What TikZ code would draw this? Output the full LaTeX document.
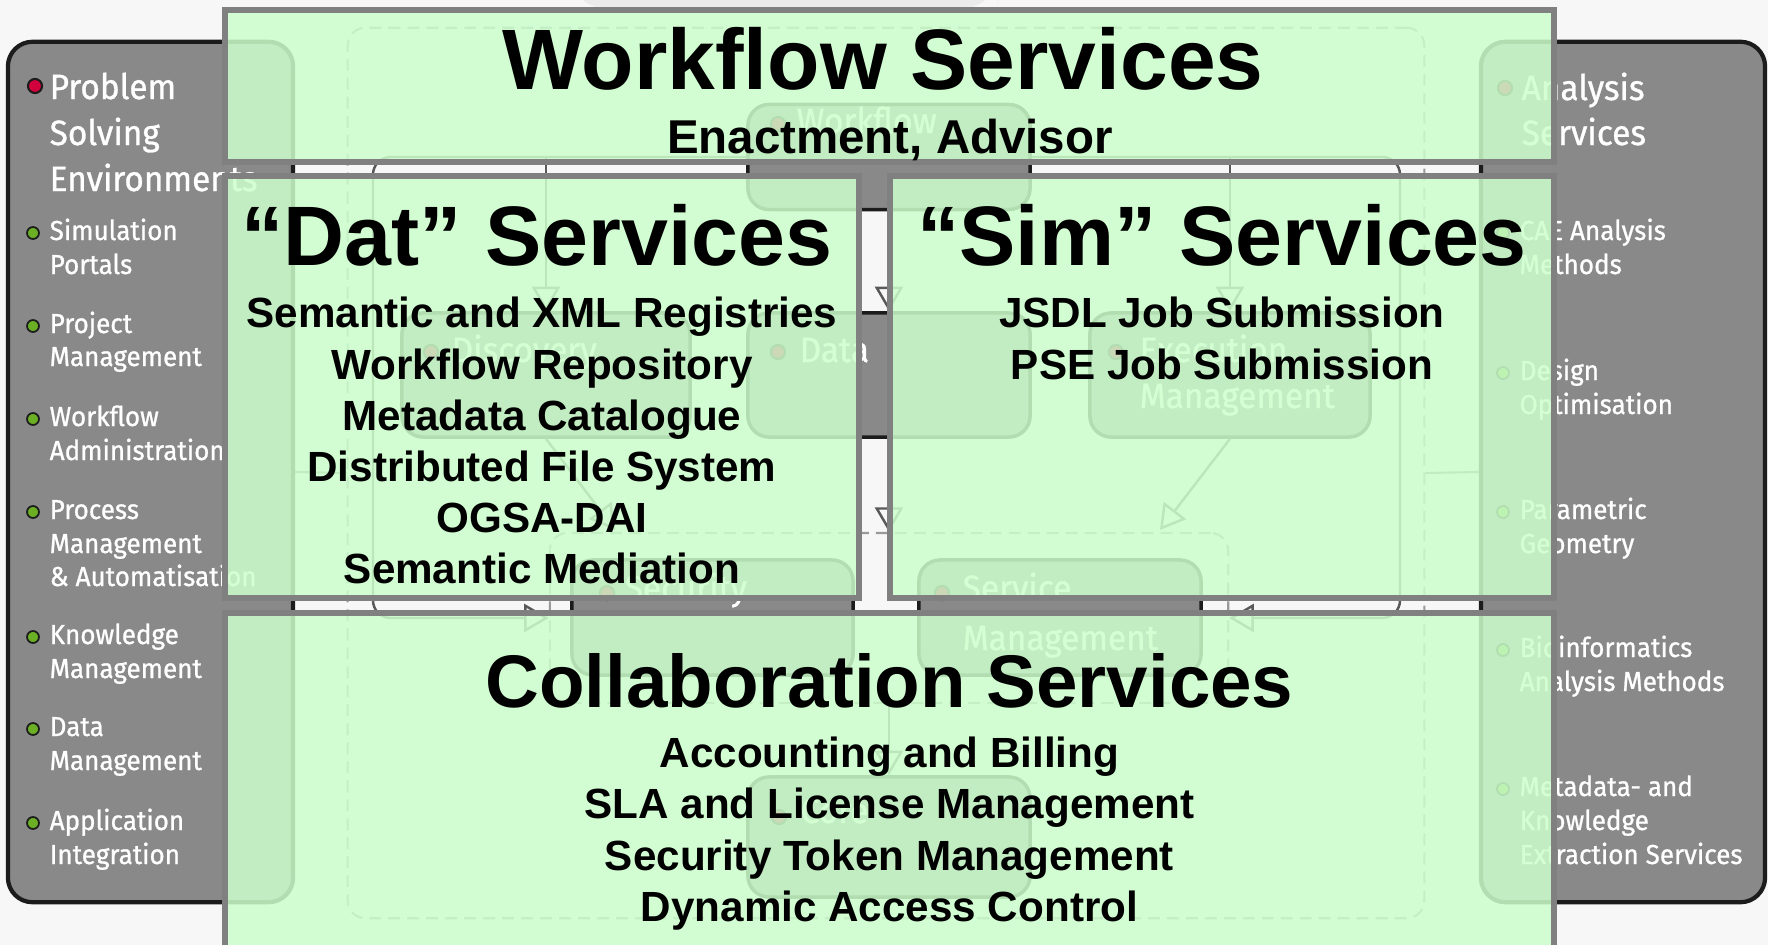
\documentclass[tikz,border=0pt]{standalone}
\usepackage{fontspec}
\setmainfont{Liberation Sans}
\newfontfamily\panelfont{Fira Sans}[FakeBold=0.9, FakeStretch=0.95]
\usetikzlibrary{arrows.meta}

\definecolor{bgcol}{HTML}{F7F7F7}
\definecolor{panelgray}{HTML}{898989}
\definecolor{edgecol}{HTML}{1C1C1C}
\definecolor{layergreen}{HTML}{CCFFCC}
\definecolor{layeredge}{HTML}{808080}
\definecolor{dotred}{HTML}{D2003C}
\definecolor{dotgreen}{HTML}{6BB024}

\tikzset{
  panel/.style={draw=edgecol, line width=1.2pt, fill=panelgray, rounded corners=7pt},
  capbox/.style={draw=edgecol, line width=1pt, fill=panelgray, rounded corners=6pt},
  frame/.style={draw=black!40, line width=0.6pt, dash pattern=on 3.4pt off 2pt, rounded corners=5pt},
  link/.style={draw=black!65, line width=0.7pt, rounded corners=5pt, -{Triangle[open, length=7pt, width=8pt]}},
  plain/.style={draw=black!50, line width=0.6pt},
  layer/.style={draw=layeredge, line width=1.7pt, fill=layergreen, fill opacity=0.85},
  head/.style={font=\panelfont\fontsize{10}{13}\selectfont, text=white, anchor=base west, inner sep=0pt},
  entry/.style={font=\panelfont\fontsize{7.8}{9.6}\selectfont, text=white, anchor=base west, inner sep=0pt},
  caplabel/.style={font=\panelfont\fontsize{10}{13}\selectfont, text=white, anchor=base west, inner sep=0pt},
  title/.style={font=\bfseries\fontsize{24}{28}\selectfont, anchor=base, inner sep=0pt},
  subline/.style={font=\bfseries\fontsize{12}{14.6}\selectfont, anchor=base, inner sep=0pt},
  reddot/.style={circle, draw=edgecol, fill=dotred, line width=0.6pt, inner sep=0pt, minimum size=4pt},
  greendot/.style={circle, draw=edgecol, fill=dotgreen, line width=0.5pt, inner sep=0pt, minimum size=3.4pt},
}

\begin{document}
\begin{tikzpicture}[x=0.01cm, y=-0.01cm]
\useasboundingbox (0,0) rectangle (1768,945);
\clip (0,0) rectangle (1768,945);
\fill[bgcol] (0,0) rectangle (1768,945);
\fill[black!8, rounded corners=10pt] (570,-30) rectangle (998,8);

% side panels
\node[panel, minimum width=2.85cm, minimum height=8.6cm] (psepanel) at (150.5,472) {};
\node[panel, minimum width=2.84cm, minimum height=8.6cm] (anpanel) at (1623,472) {};

% underlying architecture
\node[frame, minimum width=10.76cm, minimum height=8.9cm] (archframe) at (886,473) {};
\node[frame, minimum width=6.78cm, minimum height=1.7cm] (coregroup) at (889,618) {};
\node[capbox, minimum width=2.82cm, minimum height=1.05cm] (wfcap) at (889,157) {};
\node[capbox, minimum width=2.88cm, minimum height=1.24cm] (disccap) at (546,375) {};
\node[capbox, minimum width=2.82cm, minimum height=1.24cm] (datacap) at (889,375) {};
\node[capbox, minimum width=2.80cm, minimum height=1.24cm] (execcap) at (1230,375) {};
\node[capbox, minimum width=2.81cm, minimum height=1.15cm] (seccap) at (712.5,617.5) {};
\node[capbox, minimum width=2.82cm, minimum height=1.15cm] (smcap) at (1060,617.5) {};
\node[capbox, minimum width=2.82cm, minimum height=1.2cm] (corecap) at (889,837) {};
\coordinate (discin) at (615,530);
\coordinate (execin) at (1160,530);

\draw[plain] (psepanel.east) -- (archframe.west);
\draw[plain] (archframe.east) -- (anpanel.west);
\draw[link] (wfcap.west) -- (373,157) |- (coregroup.west);
\draw[link] (wfcap.east) -- (1400,157) |- (coregroup.east);
\draw[link] (disccap.north |- wfcap.west) -- (disccap.north);
\draw[link] (execcap.north |- wfcap.east) -- (execcap.north);
\draw[link] (wfcap.south) -- (datacap.north);
\draw[link] (datacap.south) -- (coregroup.north);
\draw[link] (coregroup.south) -- (corecap.north);
\draw[link] (disccap.south) -- (discin);
\draw[link] (execcap.south) -- (execin);

\node[reddot] (wfdot) at (778,124) {};
\node[caplabel] (wflbl) at (796,133) {Workflow};
\node[reddot] (discdot) at (431,352) {};
\node[caplabel] (disclbl) at (451,362) {Discovery};
\node[reddot] (datadot) at (778,352) {};
\node[caplabel] (datalbl) at (799,362) {Data};
\node[reddot] (execdot) at (1116,352) {};
\node[caplabel] (execlbl) at (1139,362) {Execution};
\node[caplabel] (execlbltwo) at (1139,408) {Management};
\node[reddot] (secdot) at (607,593) {};
\node[caplabel] (seclbl) at (624,600) {Security};
\node[reddot] (smdot) at (942,593) {};
\node[caplabel] (smlbl) at (962,600) {Service};
\node[caplabel] (smlbltwo) at (962,650) {Management};
\node[reddot] (coredot) at (779,817) {};
\node[caplabel] (corelbl) at (800,823) {Core};

% left panel text
\node[reddot] (psedot) at (35,86) {};
\node[head] (pse1) at (49,99) {Problem};
\node[head] (pse2) at (49,145) {Solving};
\node[head] (pse3) at (49,191) {Environments};
\node[greendot] (ldot1) at (33,233) {};
\node[entry] (simp1) at (49,240) {Simulation};
\node[entry] (simp2) at (49,274) {Portals};
\node[greendot] (ldot2) at (33,326) {};
\node[entry] (proj1) at (49,333) {Project};
\node[entry] (proj2) at (49,366) {Management};
\node[greendot] (ldot3) at (33,419) {};
\node[entry] (wfad1) at (49,426) {Workflow};
\node[entry] (wfad2) at (49,460) {Administration};
\node[greendot] (ldot4) at (33,512) {};
\node[entry] (proc1) at (49,519) {Process};
\node[entry] (proc2) at (49,553) {Management};
\node[entry] (proc3) at (49,586) {\& Automatisation};
\node[greendot] (ldot5) at (33,637) {};
\node[entry] (know1) at (49,644) {Knowledge};
\node[entry] (know2) at (49,678) {Management};
\node[greendot] (ldot6) at (33,729) {};
\node[entry] (dman1) at (49,736) {Data};
\node[entry] (dman2) at (49,770) {Management};
\node[greendot] (ldot7) at (33,823) {};
\node[entry] (appi1) at (49,830) {Application};
\node[entry] (appi2) at (49,864) {Integration};

% right panel text
\node[reddot] (andot) at (1505,88) {};
\node[head] (an1) at (1521,100) {Analysis};
\node[head] (an2) at (1521,145) {Services};
\node[greendot] (rdot1) at (1503,233) {};
\node[entry] (cae1) at (1519,240) {CAE Analysis};
\node[entry] (cae2) at (1519,274) {Methods};
\node[greendot] (rdot2) at (1503,373) {};
\node[entry] (dopt1) at (1519,380) {Design};
\node[entry] (dopt2) at (1519,414) {Optimisation};
\node[greendot] (rdot3) at (1503,512) {};
\node[entry] (pgeo1) at (1519,519) {Parametric};
\node[entry] (pgeo2) at (1519,553) {Geometry};
\node[greendot] (rdot4) at (1503,650) {};
\node[entry] (bioi1) at (1519,657) {Bioinformatics};
\node[entry] (bioi2) at (1519,691) {Analysis Methods};
\node[greendot] (rdot5) at (1503,789) {};
\node[entry] (mkes1) at (1519,796) {Metadata- and};
\node[entry] (mkes2) at (1519,830) {Knowledge};
\node[entry] (mkes3) at (1519,864) {Extraction Services};

% green service layers
\draw[layer] (225,10) rectangle (1554,162);
\draw[layer] (225,176) rectangle (859,598);
\draw[layer] (890,176) rectangle (1554,598);
\draw[layer] (225,613) rectangle (1554,990);

\node[title, font=\bfseries\fontsize{24.4}{28}\selectfont] (wftitle) at (883,89) {Workflow Services};
\node[font=\bfseries\fontsize{13.5}{16}\selectfont, anchor=base, inner sep=0pt] (wfsub) at (890,153) {Enactment, Advisor};

\node[title] (dattitle) at (537,265) {“Dat” Services};
\node[subline] (dat1) at (542,327) {Semantic and XML Registries};
\node[subline] (dat2) at (542,379) {Workflow Repository};
\node[subline] (dat3) at (542,430) {Metadata Catalogue};
\node[subline] (dat4) at (542,481) {Distributed File System};
\node[subline] (dat5) at (542,532) {OGSA-DAI};
\node[subline] (dat6) at (542,583) {Semantic Mediation};

\node[title] (simtitle) at (1222,265) {“Sim” Services};
\node[subline] (sim1) at (1222,327) {JSDL Job Submission};
\node[subline] (sim2) at (1222,379) {PSE Job Submission};

\node[title, font=\bfseries\fontsize{21.2}{25}\selectfont] (coltitle) at (889.5,707) {Collaboration Services};
\node[subline] (col1) at (889.5,767) {Accounting and Billing};
\node[subline] (col2) at (889.5,818) {SLA and License Management};
\node[subline] (col3) at (889.5,870) {Security Token Management};
\node[subline] (col4) at (889.5,921) {Dynamic Access Control};
\end{tikzpicture}
\end{document}
